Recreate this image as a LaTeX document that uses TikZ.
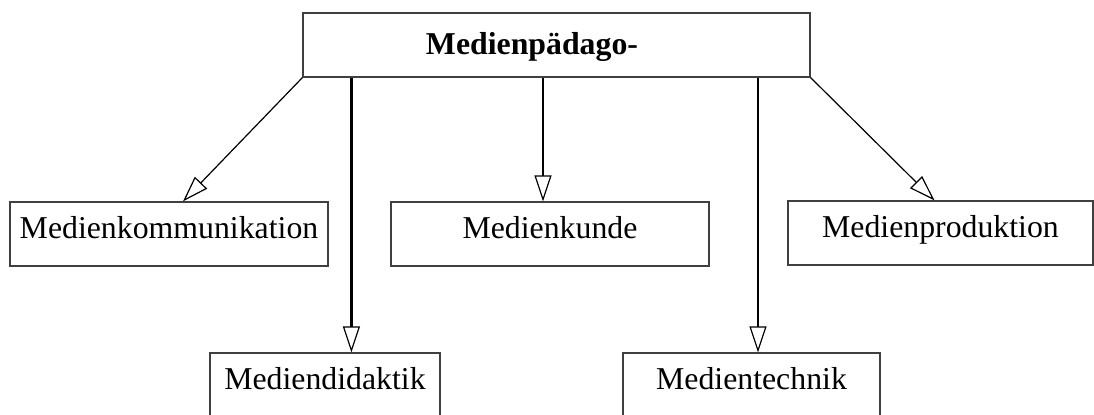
\documentclass[tikz,border=0pt]{standalone}
\usepackage{fontspec}
\setmainfont{Liberation Serif}
\usetikzlibrary{arrows.meta,positioning}

\tikzset{
    box/.style={draw=black!75, line width=0.6pt, minimum width=#1, minimum height=32pt,
        inner sep=0pt, text height=0.68em, text depth=0.22em,
        font=\fontsize{15.9pt}{19pt}\selectfont},
    box/.default=159pt,
    arr/.style={-{Triangle[open, length=13pt, width=8.5pt, line width=0.6pt]}, line width=1.1pt},
    diag/.style={arr, line width=0.6pt},
}

\begin{document}
\begin{tikzpicture}[x=0.5pt, y=-0.5pt]
    \useasboundingbox (0, 0) rectangle (1094, 415);
    % Root box
    \node[box=253.5pt] (top) at (556.5, 45) {};
    \node[font=\fontsize{15.9pt}{19pt}\selectfont\bfseries, anchor=base]
        (toptitle) at (532, 55) {Medienpädago-};
    % First row
    \node[box] (komm) at (169, 234) {Medienkommunikation};
    \node[box] (kunde) at (550, 234) {Medienkunde};
    \node[box=152.5pt] (prod) at (940.5, 233) {Medienproduktion};
    % Second row
    \node[box=115pt] (didaktik) at (325, 385) {Mediendidaktik};
    \node[box=128.5pt] (technik) at (751.5, 385) {Medientechnik};
    % Connectors
    \coordinate (didx) at ([xshift=24.5pt]top.south west);
    \coordinate (kundex) at ([xshift=-3.5pt]kunde.north);
    \coordinate (technikx) at ([xshift=3.25pt]technik.north);
    \draw[diag] (top.south west) -- ([xshift=7pt]komm.north);
    \draw[arr] (didx) -- (didx |- didaktik.north);
    \draw[arr] (kundex |- top.south) -- (kundex);
    \draw[arr] (technikx |- top.south) -- (technikx);
    \draw[diag] (top.south east) -- ([xshift=-3pt]prod.north);
\end{tikzpicture}
\end{document}
